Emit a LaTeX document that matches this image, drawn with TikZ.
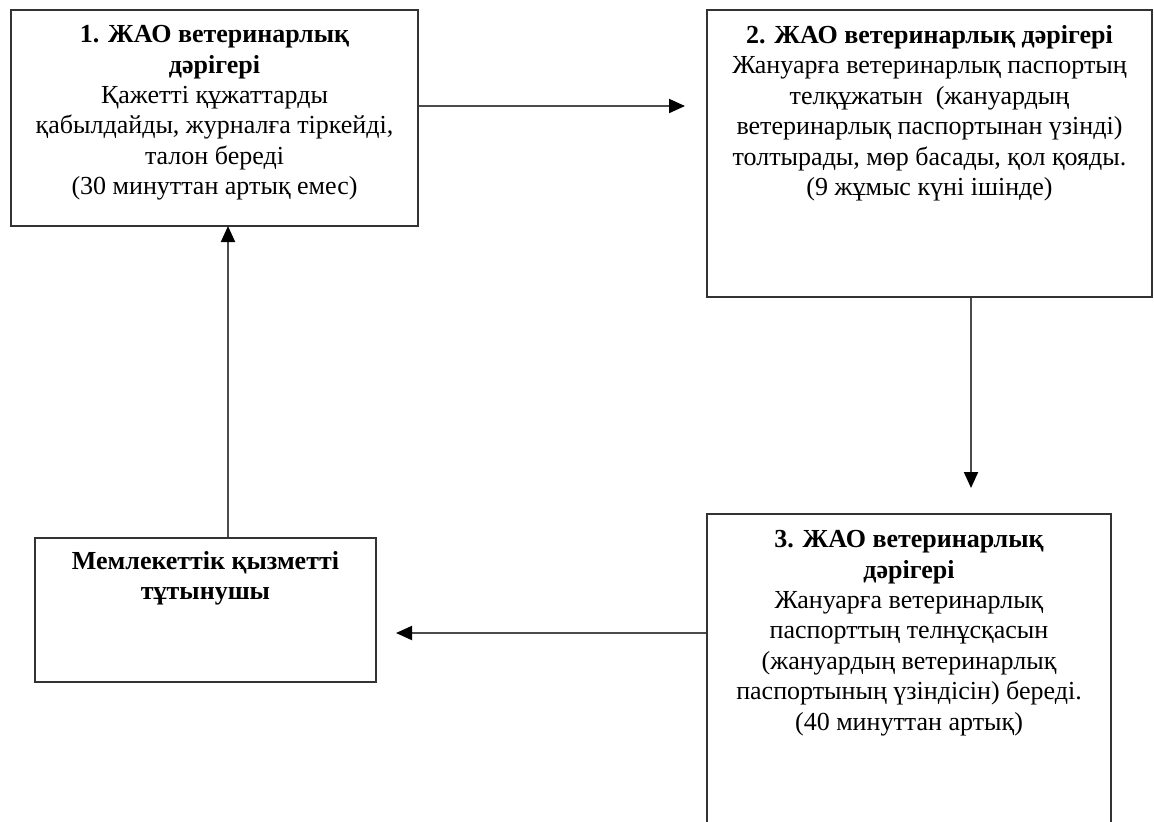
\documentclass[tikz,border=0pt]{standalone}
\usepackage{fontspec}
\setmainfont{Liberation Serif}
\usepackage{tikz}
\usetikzlibrary{arrows.meta,positioning,calc}
\tikzstyle{blok}=[draw=black!80,line width=1pt,rectangle,inner sep=0pt]
\tikzstyle{jazu}=[align=center,inner sep=0pt,
  font=\fontsize{13}{15.2}\selectfont]

\begin{document}
\begin{tikzpicture}[x=0.5pt,y=-0.5pt]
  \tikzstyle{nusqa}=[draw=black!70,line width=1pt,
    -{Triangle[length=8pt,width=7pt,color=black]}]
  \useasboundingbox (0,0) rectangle (1154,821);
  \node[blok,minimum width=203.5pt,minimum height=108pt] (zhao1) at (214.5,118) {};
  \node[blok,minimum width=222.5pt,minimum height=143.5pt] (zhao2) at (929.5,153.5) {};
  \node[blok,minimum width=202pt,minimum height=163pt] (zhao3) at (909,677) {};
  \node[blok,minimum width=170.5pt,minimum height=72pt] (tutyn) at (205.5,610) {};
  \node[jazu,below=8pt of zhao1.north] (t1) {\textbf{1. ЖАО ветеринарлық}\\
    \textbf{дәрігері}\\ Қажетті құжаттарды\\ қабылдайды, журналға тіркейді,\\
    талон береді\\ (30 минуттан артық емес)};
  \node[jazu,below=8pt of zhao2.north] (t2) {\textbf{2. ЖАО ветеринарлық дәрігері}\\
    Жануарға ветеринарлық паспортың\\ телқұжатын\ \ (жануардың\\
    ветеринарлық паспортынан үзінді)\\ толтырады, мөр басады, қол қояды.\\
    (9 жұмыс күні ішінде)};
  \node[jazu,below=8.5pt of zhao3.north] (t3) {\textbf{3. ЖАО ветеринарлық}\\
    \textbf{дәрігері}\\ Жануарға ветеринарлық\\ паспорттың телнұсқасын\\
    (жануардың ветеринарлық\\ паспортының үзіндісін) береді.\\
    (40 минуттан артық)};
  \node[jazu,below=7pt of tutyn.north] (t4) {\textbf{Мемлекеттік қызметті}\\
    \textbf{тұтынушы}};
  \coordinate (a12) at (685,106);
  \coordinate (a23) at (971,488);
  \coordinate (a34) at (396,633);
  \coordinate (a41) at (228,226);
  \draw[nusqa] (zhao1.east |- a12) -- (a12);
  \draw[nusqa] (zhao2.south -| a23) -- (a23);
  \draw[nusqa] (zhao3.west |- a34) -- (a34);
  \draw[nusqa] (tutyn.north -| a41) -- (a41);
\end{tikzpicture}
\end{document}
